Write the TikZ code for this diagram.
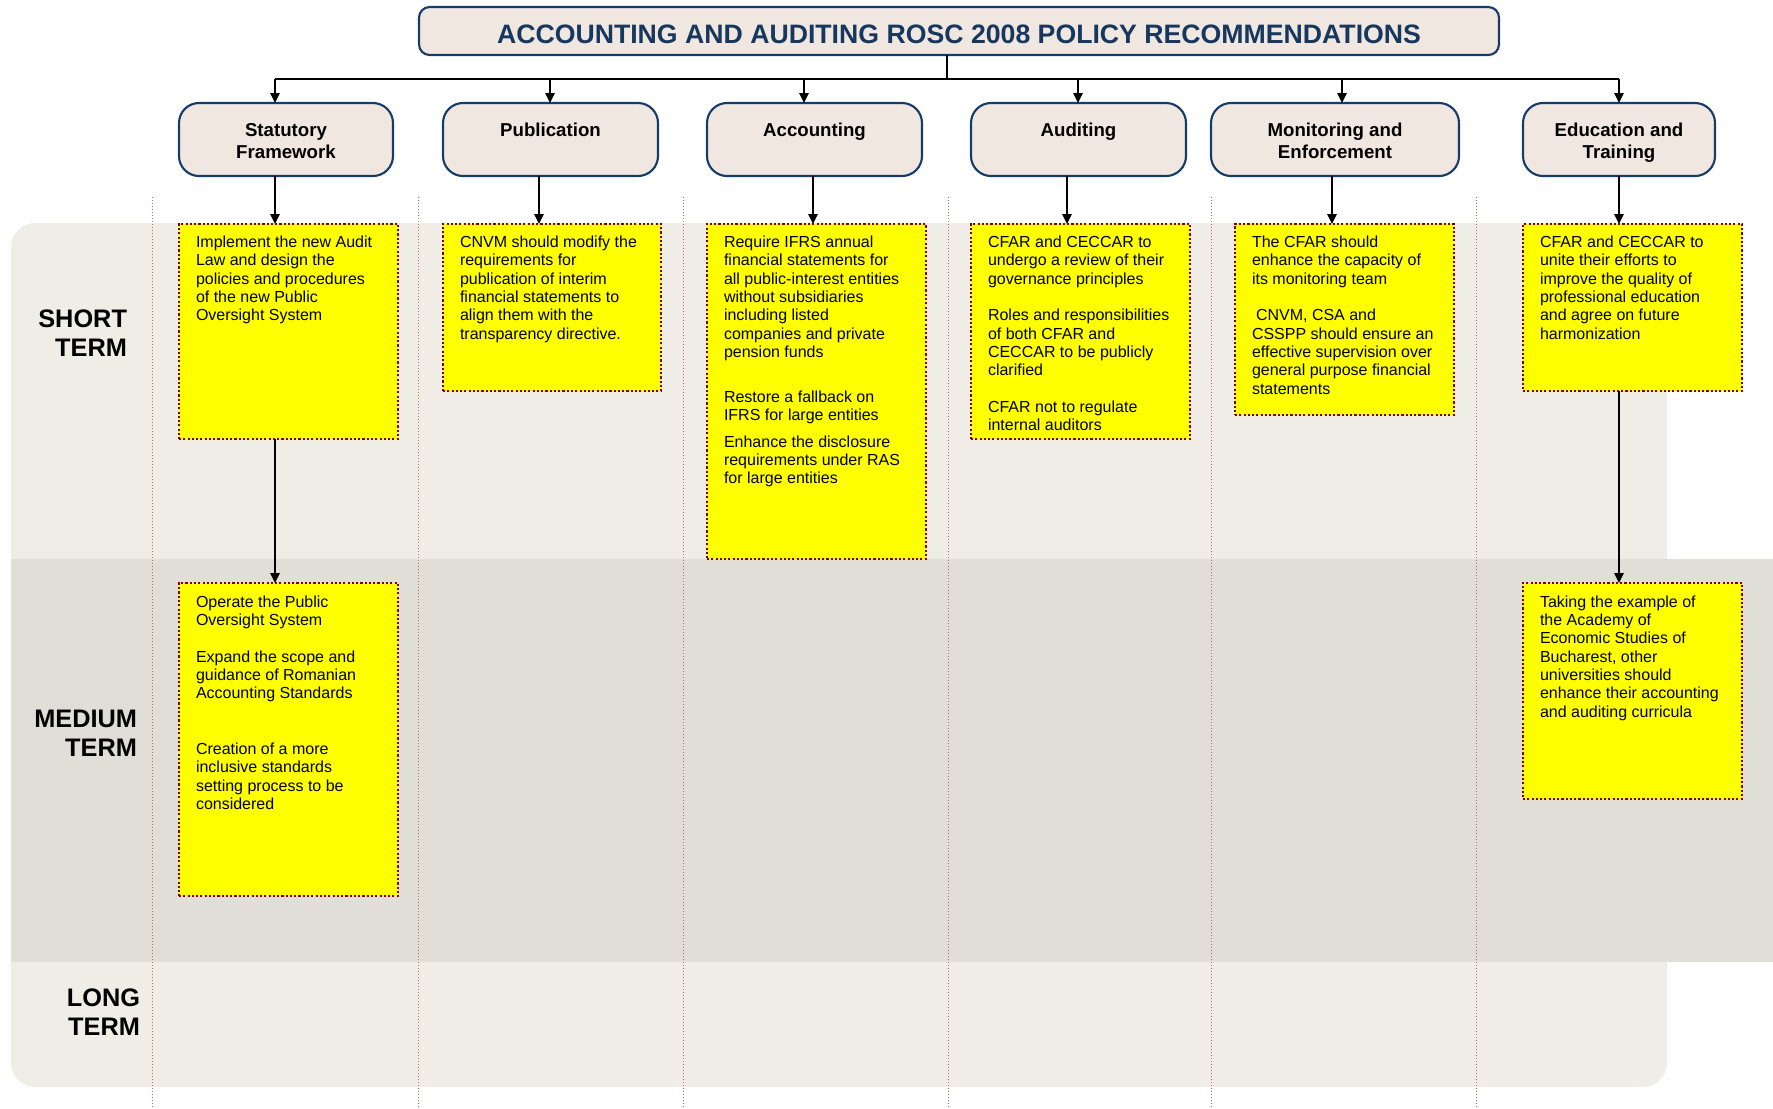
\documentclass[tikz,border=0pt]{standalone}
\usepackage{fontspec}
\setmainfont{Liberation Sans}
\usetikzlibrary{arrows.meta,calc}
\definecolor{boxfill}{RGB}{240,232,224}
\definecolor{bandlight}{RGB}{240,237,231}
\definecolor{banddark}{RGB}{225,222,215}
\definecolor{navy}{RGB}{22,60,105}
\definecolor{titleblue}{RGB}{23,55,94}
\definecolor{dotred}{RGB}{128,0,0}
\definecolor{seprule}{RGB}{185,105,85}
\definecolor{yel}{RGB}{255,255,0}
\newcommand{\topst}{\rule{0pt}{14.9pt}}
\newcommand{\botst}{\rule[-3pt]{0pt}{3pt}}
\begin{document}
\begin{tikzpicture}[x=0.75pt,y=-0.75pt,
 sz/.style 2 args={minimum width=#1*0.75pt,minimum height=#2*0.75pt},
 catbox/.style={draw=navy,line width=1.6pt,fill=boxfill,rounded corners=15pt,inner sep=0pt,outer sep=0pt,align=center,font=\fontsize{14}{16}\selectfont\bfseries},
 ybox/.style={draw=dotred,fill=yel,line width=1.8pt,dash pattern=on 1.6pt off 1.6pt,inner sep=0pt,outer sep=0pt,anchor=north west},
 ytext/.style={anchor=north west,inner sep=0pt,outer sep=0pt,align=left,font=\fontsize{12}{13.75}\selectfont},
 rowlab/.style={anchor=north east,inner sep=0pt,outer sep=0pt,align=right,font=\fontsize{19}{22}\selectfont\bfseries},
 sepline/.style={draw=seprule,line width=0.7pt,dash pattern=on 0.75pt off 1.5pt},
 arr/.style={draw=black,line width=1.2pt,-{Triangle[length=7.5pt,width=7pt]}},
 conn/.style={draw=black,line width=1.2pt}]

\useasboundingbox (0,0) rectangle (1773,1108);

% background bands
\fill[bandlight,rounded corners=18pt] (11,223) rectangle (1667,1087);
\fill[banddark] (11,559) rectangle (1773,962);

% column separators
\foreach \x in {152,418,683,948,1211,1476} \draw[sepline] (\x,197) -- (\x,1108);

% title
\node[draw=navy,line width=1.6pt,fill=boxfill,rounded corners=8pt,sz={1080}{48},text height=18.8pt,text depth=0pt,inner sep=0pt,outer sep=0pt,text=titleblue,font=\fontsize{20}{24}\selectfont\bfseries] (title) at (959,31) {ACCOUNTING AND AUDITING ROSC 2008 POLICY RECOMMENDATIONS};

% category boxes
\node[catbox,sz={214}{73}] (cSF)  at (286,139.5)   {\topst Statutory\\Framework\botst};
\node[catbox,sz={215}{73}] (cPub) at (550.5,139.5) {\topst Publication\\\botst};
\node[catbox,sz={215}{73}] (cAcc) at (814.5,139.5) {\topst Accounting\\\botst};
\node[catbox,sz={215}{73}] (cAud) at (1078.5,139.5){\topst Auditing\\\botst};
\node[catbox,sz={248}{73}] (cMon) at (1335,139.5)  {\topst Monitoring and\\Enforcement\botst};
\node[catbox,sz={192}{73}] (cEdu) at (1619,139.5)  {\topst Education and\\Training\botst};

% row labels
\node[rowlab] (lShort) at (127,309.5) {SHORT\\TERM};
\node[rowlab] (lMed) at (137,710) {MEDIUM\\TERM};
\node[rowlab] (lLong) at (140,988.5) {LONG\\TERM};

% yellow boxes
\node[ybox,sz={219}{215}] (ySF1)  at (179,224) {};
\node[ybox,sz={218}{167}] (yPub1) at (443,224) {};
\node[ybox,sz={219}{335}] (yAcc1) at (707,224) {};
\node[ybox,sz={219}{215}] (yAud1) at (971,224) {};
\node[ybox,sz={219}{191}] (yMon1) at (1235,224) {};
\node[ybox,sz={219}{167}] (yEdu1) at (1523,224) {};
\node[ybox,sz={219}{313}] (ySF2)  at (179,583) {};
\node[ybox,sz={219}{216}] (yEdu2) at (1523,583) {};

% texts
\node[ytext] (tSF1) at ([shift={(17,11.5)}]ySF1.north west) {\rule{0pt}{9pt}Implement the new Audit\\Law and design the\\policies and procedures\\of the new Public\\Oversight System};
\node[ytext] (tPub1) at ([shift={(17,11.5)}]yPub1.north west) {\rule{0pt}{9pt}CNVM should modify the\\requirements for\\publication of interim\\financial statements to\\align them with the\\transparency directive.};
\node[ytext] (tAcc1) at ([shift={(17,11.5)}]yAcc1.north west) {\rule{0pt}{9pt}Require IFRS annual\\financial statements for\\all public-interest entities\\without subsidiaries\\including listed\\companies and private\\pension funds\\[20pt]Restore a fallback on\\IFRS for large entities\\[6pt]Enhance the disclosure\\requirements under RAS\\for large entities};
\node[ytext] (tAud1) at ([shift={(17,11.5)}]yAud1.north west) {\rule{0pt}{9pt}CFAR and CECCAR to\\undergo a review of their\\governance principles\\[13.75pt]Roles and responsibilities\\of both CFAR and\\CECCAR to be publicly\\clarified\\[13.75pt]CFAR not to regulate\\internal auditors};
\node[ytext] (tMon1) at ([shift={(17,11.5)}]yMon1.north west) {\rule{0pt}{9pt}The CFAR should\\enhance the capacity of\\its monitoring team\\[13.75pt]\hspace{3pt}CNVM, CSA and\\CSSPP should ensure an\\effective supervision over\\general purpose financial\\statements};
\node[ytext] (tEdu1) at ([shift={(17,11.5)}]yEdu1.north west) {\rule{0pt}{9pt}CFAR and CECCAR to\\unite their efforts to\\improve the quality of\\professional education\\and agree on future\\harmonization};
\node[ytext] (tSF2) at ([shift={(17,12)}]ySF2.north west) {\rule{0pt}{9pt}Operate the Public\\Oversight System\\[13.75pt]Expand the scope and\\guidance of Romanian\\Accounting Standards\\[28pt]Creation of a more\\inclusive standards\\setting process to be\\considered};
\node[ytext] (tEdu2) at ([shift={(17,12)}]yEdu2.north west) {\rule{0pt}{9pt}Taking the example of\\the Academy of\\Economic Studies of\\Bucharest, other\\universities should\\enhance their accounting\\and auditing curricula};

% connector coordinates
\coordinate (hl) at (0,79);
\coordinate (tx) at (947,0);
\coordinate (tSFx) at (275,0);
\coordinate (tPubx) at (550,0);
\coordinate (tAccx) at (804,0);
\coordinate (tAudx) at (1078,0);
\coordinate (tMonx) at (1342,0);
\coordinate (tEdux) at (1619,0);
\coordinate (bSFx) at (275,0);
\coordinate (bPubx) at (539,0);
\coordinate (bAccx) at (813,0);
\coordinate (bAudx) at (1067,0);
\coordinate (bMonx) at (1332,0);
\coordinate (bEdux) at (1619,0);

\draw[conn] (title.south -| tx) -- (hl -| tx);
\draw[conn] (hl -| tSFx) -- (hl -| tEdux);
\draw[arr] (hl -| tSFx) -- (cSF.north -| tSFx);
\draw[arr] (hl -| tPubx) -- (cPub.north -| tPubx);
\draw[arr] (hl -| tAccx) -- (cAcc.north -| tAccx);
\draw[arr] (hl -| tAudx) -- (cAud.north -| tAudx);
\draw[arr] (hl -| tMonx) -- (cMon.north -| tMonx);
\draw[arr] (hl -| tEdux) -- (cEdu.north -| tEdux);

\draw[arr] (cSF.south -| bSFx) -- (ySF1.north -| bSFx);
\draw[arr] (cPub.south -| bPubx) -- (yPub1.north -| bPubx);
\draw[arr] (cAcc.south -| bAccx) -- (yAcc1.north -| bAccx);
\draw[arr] (cAud.south -| bAudx) -- (yAud1.north -| bAudx);
\draw[arr] (cMon.south -| bMonx) -- (yMon1.north -| bMonx);
\draw[arr] (cEdu.south -| bEdux) -- (yEdu1.north -| bEdux);

\draw[arr] (ySF1.south -| bSFx) -- (ySF2.north -| bSFx);
\draw[arr] (yEdu1.south -| bEdux) -- (yEdu2.north -| bEdux);
\end{tikzpicture}
\end{document}
